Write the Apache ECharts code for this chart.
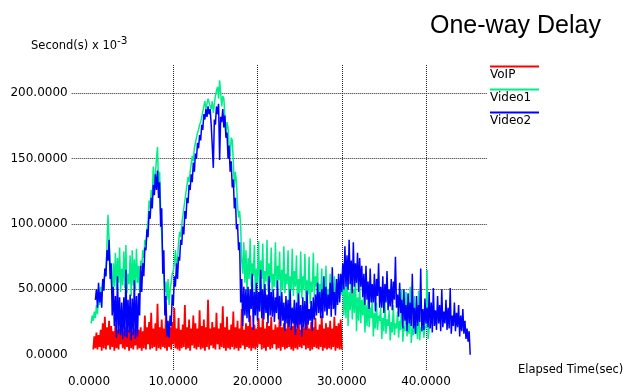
<!DOCTYPE html>
<html>
<head>
<meta charset="utf-8">
<script src="https://cdn.jsdelivr.net/npm/echarts@6/dist/echarts.min.js"></script>
<style>
  html, body { margin: 0; padding: 0; background: #fff; }
  #chart { width: 629px; height: 392px; }
</style>
</head>
<body>
<div id="chart"></div>
<script>
// samples every 0.125 s (one row = one second)
const step = 0.125;

const voipStart = 0.5;
const voip = [
  4, 14, 5, 17, 4, 15, 6, 19,
  3, 24, 5, 29, 4, 21, 7, 26,
  4, 22, 6, 18, 3, 23, 5, 19,
  4, 20, 8, 22, 5, 18, 4, 21,
  6, 19, 3, 24, 5, 18, 4, 20,
  7, 23, 4, 19, 5, 21, 3, 18,
  5, 30, 4, 21, 8, 25, 4, 32,
  5, 20, 6, 24, 3, 39, 5, 21,
  4, 27, 6, 20, 5, 31, 3, 22,
  6, 21, 4, 25, 8, 36, 5, 20,
  4, 28, 3, 19, 5, 23, 6, 38,
  4, 21, 5, 27, 3, 20, 7, 30,
  5, 24, 4, 20, 6, 34, 4, 22,
  5, 27, 3, 21, 6, 42, 4, 20,
  7, 25, 5, 21, 4, 32, 8, 20,
  4, 24, 6, 37, 5, 21, 3, 29,
  5, 19, 4, 23, 6, 33, 4, 21,
  5, 26, 3, 20, 5, 35, 7, 19,
  4, 24, 6, 22, 5, 30, 3, 21,
  5, 23, 4, 20, 6, 28, 8, 21,
  4, 33, 5, 20, 3, 25, 6, 22,
  4, 29, 5, 19, 8, 23, 4, 21,
  5, 30, 3, 21, 6, 24, 4, 20,
  5, 27, 6, 21, 4, 22, 3, 26,
  5, 20, 4, 29, 6, 19, 5, 23,
  7, 21, 4, 32, 5, 20, 3, 25,
  4, 21, 6, 28, 5, 19, 4, 23,
  6, 30, 3, 20, 5, 24, 4, 21,
  5, 26, 4, 20, 6, 29, 3, 22,
  5, 24, 4, 27, 4
];

const video1Start = 0.25;
const video1 = [
  24, 30, 26, 33, 28, 38, 31, 46,
  38, 52, 44, 57, 50, 66, 60, 84,
  107, 88, 72, 58, 46, 70, 52, 78,
  50, 74, 55, 82, 48, 66, 53, 79,
  51, 84, 47, 62, 54, 76, 45, 80,
  53, 73, 49, 81, 55, 68, 48, 72,
  66, 80, 74, 88, 84, 95, 102, 118,
  112, 126, 120, 144, 130, 138, 150, 159,
  128, 140, 108, 92, 76, 62, 48, 56,
  42, 58, 38, 50, 55, 62, 64, 70,
  80, 68, 72, 86, 94, 90, 99, 106,
  112, 118, 124, 130, 136, 132, 140, 146,
  152, 148, 158, 162, 166, 170, 172, 176,
  178, 182, 186, 190, 194, 188, 192, 196,
  197, 190, 188, 194, 185, 192, 198, 202,
  205, 196, 210, 200, 190, 198, 196, 182,
  168, 178, 174, 160, 152, 166, 164, 148,
  128, 140, 132, 115, 105, 110, 98, 72,
  62, 86, 55, 80, 48, 74, 58, 89,
  52, 70, 60, 84, 45, 66, 55, 87,
  50, 72, 58, 85, 43, 64, 56, 88,
  48, 70, 55, 82, 46, 62, 52, 86,
  51, 68, 57, 79, 42, 65, 50, 83,
  47, 62, 54, 80, 40, 60, 49, 81,
  45, 64, 52, 76, 38, 58, 47, 79,
  43, 60, 50, 77, 41, 57, 46, 75,
  39, 56, 48, 78, 44, 60, 52, 70,
  37, 54, 45, 66, 40, 52, 46, 68,
  36, 50, 44, 62, 42, 55, 38, 60,
  35, 48, 40, 58, 44, 52, 46, 67,
  30, 52, 28, 60, 22, 48, 34, 56,
  27, 50, 32, 62, 18, 44, 26, 55,
  24, 42, 30, 50, 17, 38, 22, 46,
  21, 36, 28, 44, 14, 32, 20, 40,
  19, 30, 26, 36, 12, 28, 18, 41,
  16, 27, 22, 34, 11, 25, 17, 38,
  15, 24, 20, 33, 13, 26, 19, 50,
  10, 22, 18, 48, 14, 24, 16, 52,
  9, 20, 15, 45, 16, 23, 12, 49,
  11, 21, 18, 26, 13, 22, 20, 65,
  12, 20, 24
];

const video2Start = 0.75;
const video2 = [
  42, 50, 36, 55, 40, 48, 36, 58,
  49, 66, 60, 80, 72, 88, 58, 70,
  30, 52, 22, 45, 13, 60, 16, 44,
  15, 40, 12, 44, 14, 65, 13, 42,
  17, 46, 11, 43, 15, 57, 12, 45,
  14, 47, 30, 68, 48, 70, 60, 82,
  80, 96, 90, 110, 104, 120, 112, 130,
  122, 138, 126, 141, 120, 132, 98, 112,
  62, 80, 30, 45, 14, 26, 13, 30,
  22, 46, 38, 60, 52, 70, 58, 75,
  72, 88, 84, 98, 92, 110, 104, 120,
  116, 130, 126, 138, 132, 147, 140, 154,
  150, 162, 158, 168, 164, 176, 172, 184,
  180, 188, 182, 190, 184, 188, 176, 160,
  143, 180, 176, 190, 184, 192, 149, 182,
  178, 188, 174, 183, 166, 170, 150, 160,
  140, 148, 128, 134, 112, 120, 96, 100,
  80, 86, 40, 58, 22, 52, 30, 50,
  28, 52, 25, 50, 35, 62, 19, 48,
  30, 55, 26, 48, 33, 65, 28, 50,
  27, 54, 32, 46, 24, 60, 30, 48,
  29, 50, 25, 44, 32, 57, 27, 45,
  22, 48, 26, 40, 18, 45, 24, 42,
  21, 50, 19, 36, 24, 42, 15, 40,
  20, 47, 23, 38, 14, 44, 21, 41,
  19, 49, 23, 35, 26, 41, 18, 44,
  27, 46, 30, 55, 32, 48, 28, 50,
  28, 60, 33, 52, 30, 46, 35, 55,
  29, 67, 35, 48, 30, 58, 38, 62,
  40, 62, 48, 70, 50, 83, 52, 76,
  50, 88, 54, 72, 47, 86, 52, 70,
  55, 78, 48, 74, 52, 68, 44, 62,
  38, 68, 42, 56, 35, 66, 40, 54,
  40, 62, 33, 58, 45, 70, 36, 52,
  36, 60, 32, 54, 40, 64, 34, 50,
  37, 58, 34, 56, 42, 75, 36, 46,
  29, 55, 32, 42, 20, 50, 26, 38,
  18, 47, 24, 40, 22, 62, 20, 36,
  16, 45, 22, 38, 25, 66, 18, 35,
  19, 43, 24, 36, 21, 48, 20, 40,
  17, 51, 22, 34, 19, 45, 24, 38,
  18, 50, 21, 33, 24, 42, 19, 36,
  20, 51, 16, 30, 22, 40, 18, 32,
  21, 38, 14, 30, 18, 35, 16, 26,
  12, 20, 10, 18, 0
];

const seriesNames = ['VoIP', 'Video1', 'Video2'];
const seriesColors = ['#ff0000', '#00ee88', '#0000ff'];
const seriesWidths = [1.8, 1.5, 1.5];

function toPoints(start, values) {
  return values.map((v, i) => [start + i * step, v]);
}

const font = 'DejaVu Sans';
const dotted = { color: '#222', width: 1, type: [1, 1] };

const chart = echarts.init(document.getElementById('chart'));

// legend: coloured line above each name
const legendItems = [];
seriesNames.forEach((name, i) => {
  const ly = 66.5 + i * 23;
  legendItems.push({
    type: 'line',
    shape: { x1: 490, y1: ly, x2: 539, y2: ly },
    style: { stroke: seriesColors[i], lineWidth: 2 }
  });
  legendItems.push({
    type: 'text',
    x: 490,
    y: ly + 8,
    style: { text: name, fill: '#000', font: '12px "' + font + '"', verticalAlign: 'middle' }
  });
});

chart.setOption({
  animation: false,
  backgroundColor: '#fff',
  title: [
    {
      text: 'One-way Delay',
      left: 430,
      top: 14,
      padding: 0,
      textStyle: { fontFamily: 'Liberation Sans', fontSize: 25, fontWeight: 'normal', color: '#000' }
    },
    {
      text: '{a|Second(s) x 10}{b|-3}',
      left: 31,
      top: 36,
      padding: 0,
      textStyle: {
        fontWeight: 'normal',
        rich: {
          a: { fontFamily: font, fontSize: 11.5, fontWeight: 'normal', color: '#000', lineHeight: 16, verticalAlign: 'bottom' },
          b: { fontFamily: font, fontSize: 10.5, fontWeight: 'normal', color: '#000', lineHeight: 10, verticalAlign: 'top' }
        }
      }
    }
  ],
  graphic: legendItems,
  grid: [
    { left: 89.07, top: 65, width: 398.4, height: 305 },
    { left: 71.7, top: 93.3, width: 415.8, height: 261.4 }
  ],
  xAxis: [
    {
      gridIndex: 0,
      type: 'value',
      min: 0,
      max: 47.3,
      interval: 10,
      axisLine: { show: false, onZero: false },
      axisTick: { show: false },
      axisLabel: {
        margin: 6,
        color: '#000',
        fontFamily: font,
        fontSize: 12,
        showMaxLabel: false,
        formatter: v => v.toFixed(4)
      },
      splitLine: { show: true, showMinLine: false, showMaxLine: false, lineStyle: dotted },
      name: 'Elapsed Time(sec)',
      nameLocation: 'end',
      nameGap: 30.5,
      nameTextStyle: {
        color: '#000', fontFamily: font, fontSize: 11.5,
        verticalAlign: 'middle', padding: [0, 0, 6, 0]
      }
    },
    { gridIndex: 1, type: 'value', min: 0, max: 1, show: false }
  ],
  yAxis: [
    { gridIndex: 0, type: 'value', min: -11.7, max: 221.7, show: false },
    {
      gridIndex: 1,
      type: 'value',
      min: 0,
      max: 200,
      interval: 50,
      axisLine: { show: false },
      axisTick: { show: false },
      axisLabel: {
        margin: 4,
        color: '#000',
        fontFamily: font,
        fontSize: 12,
        formatter: v => v.toFixed(4)
      },
      splitLine: { show: true, showMinLine: false, lineStyle: dotted }
    }
  ],
  series: [
    { name: 'VoIP', data: toPoints(voipStart, voip) },
    { name: 'Video1', data: toPoints(video1Start, video1) },
    { name: 'Video2', data: toPoints(video2Start, video2) }
  ].map((s, i) => ({
    type: 'line',
    name: s.name,
    xAxisIndex: 0,
    yAxisIndex: 0,
    data: s.data,
    symbol: 'none',
    silent: true,
    lineStyle: { color: seriesColors[i], width: seriesWidths[i] },
    itemStyle: { color: seriesColors[i] }
  }))
});
</script>
</body>
</html>
